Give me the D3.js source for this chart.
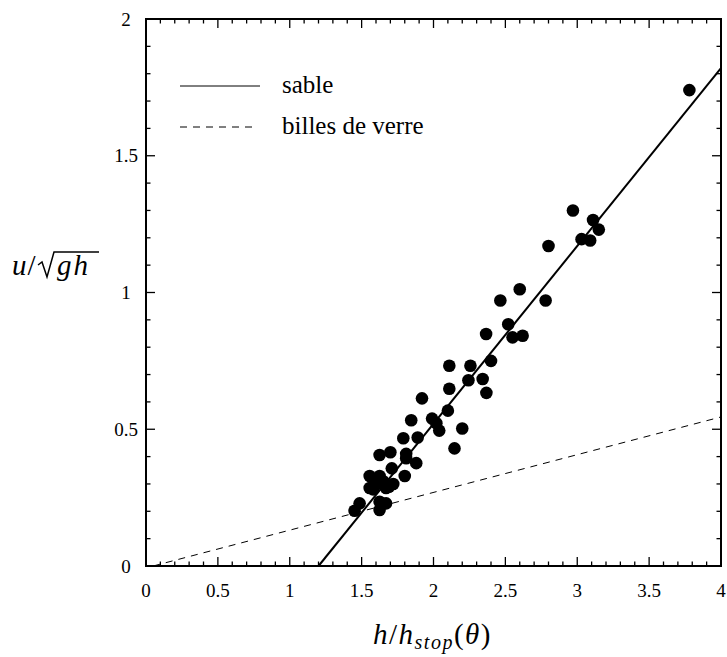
<!DOCTYPE html>
<html>
<head>
<meta charset="utf-8">
<script src="https://cdn.jsdelivr.net/npm/d3@7"></script>
<style>
  body { margin: 0; background: #fff; }
</style>
</head>
<body>
<script>
const width = 727, height = 657;
const margin = {left: 146, right: 5, top: 19, bottom: 91};
const serif = "'Liberation Serif', 'DejaVu Serif', 'Noto Serif', FreeSerif, 'Nimbus Roman', 'Times New Roman', serif";

// measured points: h/hstop and u/sqrt(gh)
const hRatio = [3.78, 2.97, 3.11, 3.15, 3.03, 3.09, 2.80, 2.60, 2.465, 2.78,
  2.52, 2.366, 2.55, 2.62, 2.257, 2.11, 2.40, 2.243, 2.342, 2.368,
  2.11, 1.92, 2.10, 1.845, 1.99, 2.02, 2.04, 2.20, 1.89, 2.146,
  1.79, 1.625, 1.70, 1.81, 1.81, 1.88, 1.71, 1.80, 1.556, 1.625,
  1.65, 1.69, 1.556, 1.58, 1.67, 1.486, 1.451, 1.625, 1.67, 1.625,
  1.60, 1.72];
const froude = [1.74, 1.30, 1.265, 1.23, 1.195, 1.19, 1.17, 1.012, 0.971, 0.971,
  0.884, 0.848, 0.836, 0.842, 0.732, 0.732, 0.75, 0.679, 0.684, 0.633,
  0.648, 0.613, 0.568, 0.533, 0.539, 0.522, 0.495, 0.503, 0.47, 0.43,
  0.467, 0.406, 0.416, 0.41, 0.394, 0.376, 0.357, 0.329, 0.329, 0.329,
  0.31, 0.29, 0.285, 0.28, 0.285, 0.229, 0.202, 0.235, 0.229, 0.205,
  0.30, 0.30];

// fitted laws
const sableLine = [[1.2, 0], [4, 1.82]];
const verreLine = [[0.05, 0], [4, 0.545]];

const xTicks = [0, 0.5, 1, 1.5, 2, 2.5, 3, 3.5, 4];
const yTicks = [0, 0.5, 1, 1.5, 2];
const legendLabels = ["sable", "billes de verre"];

const svg = d3.select("body").append("svg").attr("width", width).attr("height", height)
  .attr("font-family", serif);
const x = d3.scaleLinear().domain([0, 4]).range([margin.left, width - margin.right - 1]);
const y = d3.scaleLinear().domain([0, 2]).range([height - margin.bottom, margin.top]);

const minorX = d3.range(0, 41).map(d => d / 10).filter(d => Math.abs(d * 2 - Math.round(d * 2)) > 1e-6);
const minorY = d3.range(0, 21).map(d => d / 10).filter(d => Math.abs(d * 2 - Math.round(d * 2)) > 1e-6);

const x0 = x(0), x1 = x(4), y0 = y(0), y1 = y(2);

// ticks (inward, on all four sides)
const tg = svg.append("g").attr("stroke", "#000").attr("stroke-width", 1.3);
const addTicksX = (vals, len) => {
  tg.selectAll(null).data(vals).join("line")
    .attr("x1", d => x(d)).attr("x2", d => x(d)).attr("y1", y0).attr("y2", y0 - len);
  tg.selectAll(null).data(vals).join("line")
    .attr("x1", d => x(d)).attr("x2", d => x(d)).attr("y1", y1).attr("y2", y1 + len);
};
const addTicksY = (vals, len) => {
  tg.selectAll(null).data(vals).join("line")
    .attr("y1", d => y(d)).attr("y2", d => y(d)).attr("x1", x0).attr("x2", x0 + len);
  tg.selectAll(null).data(vals).join("line")
    .attr("y1", d => y(d)).attr("y2", d => y(d)).attr("x1", x1).attr("x2", x1 - len);
};
addTicksX(xTicks, 9); addTicksX(minorX, 4.5);
addTicksY(yTicks, 9); addTicksY(minorY, 4.5);

svg.append("rect").attr("x", x0).attr("y", y1).attr("width", x1 - x0).attr("height", y0 - y1)
  .attr("fill", "none").attr("stroke", "#000").attr("stroke-width", 2);

// tick labels
svg.append("g").selectAll("text").data(xTicks).join("text")
  .attr("x", d => x(d)).attr("y", y0 + 31).attr("text-anchor", "middle")
  .attr("font-size", 19).text(d => d);
svg.append("g").selectAll("text").data(yTicks).join("text")
  .attr("x", x0 - 20).attr("y", d => y(d)).attr("dy", "0.35em").attr("text-anchor", "middle")
  .attr("font-size", 19).text(d => d);

// fit lines
const line = d3.line().x(d => x(d[0])).y(d => y(d[1]));
svg.append("path").attr("d", line(sableLine)).attr("fill", "none")
  .attr("stroke", "#000").attr("stroke-width", 2);
svg.append("path").attr("d", line(verreLine)).attr("fill", "none")
  .attr("stroke", "#000").attr("stroke-width", 1).attr("stroke-dasharray", "7,6");

// data
svg.append("g").selectAll("circle").data(hRatio).join("circle")
  .attr("cx", d => x(d)).attr("cy", (d, i) => y(froude[i])).attr("r", 6.3).attr("fill", "#000");

// legend
const leg = svg.append("g");
leg.append("line").attr("x1", 180).attr("x2", 260).attr("y1", 86).attr("y2", 86)
  .attr("stroke", "#000").attr("stroke-width", 1);
leg.append("line").attr("x1", 180).attr("x2", 256).attr("y1", 127).attr("y2", 127)
  .attr("stroke", "#000").attr("stroke-width", 1).attr("stroke-dasharray", "7,6");
leg.selectAll("text").data(legendLabels).join("text")
  .attr("x", 282).attr("y", (d, i) => 93 + i * 41).attr("font-size", 25).text(d => d);

// axis titles
const xl = svg.append("text").attr("x", 373).attr("y", 644).attr("font-size", 29)
  .attr("letter-spacing", 1.5);
xl.append("tspan").attr("font-style", "italic").text("h");
xl.append("tspan").text("/");
xl.append("tspan").attr("font-style", "italic").text("h");
xl.append("tspan").attr("font-style", "italic").attr("font-size", 20).attr("dy", 5).text("stop");
xl.append("tspan").attr("dy", -5).text("(");
xl.append("tspan").attr("font-style", "italic").text("θ");
xl.append("tspan").text(")");

// u / sqrt(gh): radical sign drawn as a path
svg.append("text").attr("x", 12).attr("y", 275).attr("font-size", 29).attr("letter-spacing", 1)
  .html('<tspan font-style="italic">u</tspan>/');
svg.append("path").attr("d", "M38,265 L42,262 L47,277 L54,252 L99,252")
  .attr("fill", "none").attr("stroke", "#000").attr("stroke-width", 1.5)
  .attr("stroke-linejoin", "miter");
svg.append("text").attr("x", 57).attr("y", 275).attr("font-size", 29).attr("letter-spacing", 2)
  .attr("font-style", "italic").text("gh");
</script>
</body>
</html>
